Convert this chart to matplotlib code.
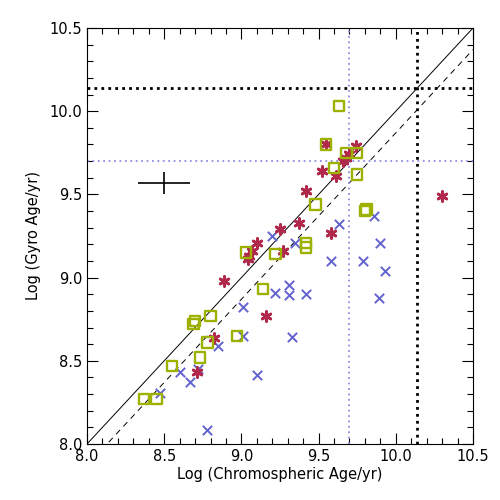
import matplotlib
matplotlib.use("Agg")
import matplotlib.pyplot as plt
import numpy as np
from matplotlib.ticker import MultipleLocator

# green squares
sq_x = [9.63, 9.55, 9.68, 9.75, 9.60, 9.75, 9.48, 9.80, 9.81, 9.42, 9.42, 9.03,
        9.22, 9.14, 8.80, 8.70, 8.69, 8.78, 8.97, 8.73, 8.55, 8.37, 8.45]
sq_y = [10.03, 9.80, 9.75, 9.75, 9.66, 9.62, 9.44, 9.40, 9.41, 9.21, 9.18, 9.15,
        9.14, 8.93, 8.77, 8.74, 8.72, 8.61, 8.65, 8.52, 8.47, 8.27, 8.27]

# red asterisks
st_x = [9.55, 9.74, 9.70, 9.68, 9.66, 9.52, 9.61, 9.42, 9.37, 9.25, 9.58,
        9.10, 9.07, 9.05, 9.04, 9.27, 8.89, 9.16, 8.82, 8.71, 10.30]
st_y = [9.80, 9.79, 9.74, 9.72, 9.70, 9.64, 9.61, 9.52, 9.33, 9.29, 9.27,
        9.21, 9.16, 9.13, 9.11, 9.16, 8.98, 8.77, 8.64, 8.43, 9.49]

# blue crosses
bx_x = [9.63, 9.86, 9.20, 9.35, 9.90, 9.58, 9.79, 9.93, 9.22, 9.31, 9.31, 9.42,
        9.89, 9.01, 9.01, 9.33, 8.85, 9.10, 8.72, 8.67, 8.60, 8.47, 8.78]
bx_y = [9.32, 9.37, 9.25, 9.21, 9.21, 9.10, 9.10, 9.04, 8.91, 8.955, 8.895, 8.90,
        8.88, 8.825, 8.65, 8.645, 8.59, 8.415, 8.45, 8.375, 8.43, 8.305, 8.085]

sun_age = 10.14
limit_age = 9.70
offset = 0.13
err_x, err_y = 8.5, 9.567
err_dx, err_dy = 0.17, 0.065

green = '#9db200'
red = '#b0284a'
blue = '#6262d0'
lav = '#8e8ee2'

fig = plt.figure(figsize=(5, 5), dpi=100)
ax = fig.add_axes([0.174, 0.112, 0.772, 0.832])

line = np.array([8.0, 10.5])
ax.plot(line, line, color='black', lw=0.7)
ax.plot(line, line - offset, color='black', lw=0.7, ls=(0, (6, 5)))

ax.axvline(limit_age, color=lav, lw=1.3, ls=(0, (1, 2)))
ax.axhline(limit_age, color=lav, lw=1.3, ls=(0, (1, 2)))
ax.axvline(sun_age, color='black', lw=2, ls=(0, (1, 1.5)))
ax.axhline(sun_age, color='black', lw=2, ls=(0, (1, 1.5)))

ax.scatter(bx_x, bx_y, marker='x', s=45, color=blue, linewidths=1.4, zorder=3)
ax.scatter(st_x, st_y, marker=(6, 2, 0), s=50, color=red, linewidths=2.0, zorder=4)
ax.scatter(sq_x, sq_y, marker='s', s=55, facecolors='none', edgecolors=green,
           linewidths=1.7, zorder=5)

ax.errorbar([err_x], [err_y], xerr=[err_dx], yerr=[err_dy], color='black',
            lw=1.2, capsize=0)

ax.set_xlim(8.0, 10.5)
ax.set_ylim(8.0, 10.5)
ax.xaxis.set_major_locator(MultipleLocator(0.5))
ax.yaxis.set_major_locator(MultipleLocator(0.5))
ax.xaxis.set_minor_locator(MultipleLocator(0.1))
ax.yaxis.set_minor_locator(MultipleLocator(0.1))
ax.xaxis.set_major_formatter(matplotlib.ticker.FormatStrFormatter('%.1f'))
ax.yaxis.set_major_formatter(matplotlib.ticker.FormatStrFormatter('%.1f'))
ax.tick_params(which='both', direction='in', top=True, right=True, labelsize=10.5)
ax.tick_params(which='major', length=8, width=0.8)
ax.tick_params(which='minor', length=4, width=0.8)
for sp in ax.spines.values():
    sp.set_linewidth(0.8)

ax.set_xlabel('Log (Chromospheric Age/yr)', fontsize=10.5, labelpad=2)
ax.set_ylabel('Log (Gyro Age/yr)', fontsize=10.5, labelpad=6)

fig.savefig('out.png', dpi=100)
